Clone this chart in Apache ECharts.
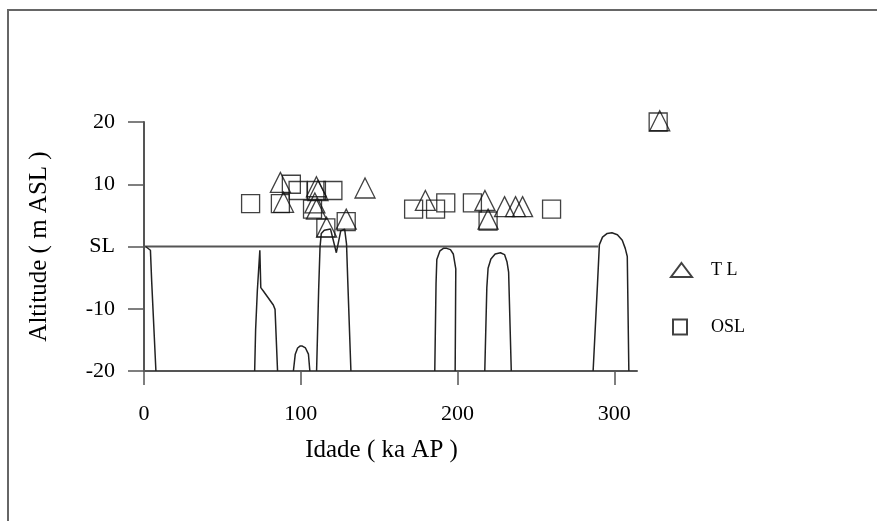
<!DOCTYPE html>
<html>
<head>
<meta charset="utf-8">
<script src="https://cdn.jsdelivr.net/npm/echarts@6/dist/echarts.min.js"></script>
<style>
html,body{margin:0;padding:0;background:#fff;}
#main{width:877px;height:521px;}
</style>
</head>
<body>
<div id="main"></div>
<script>
// amostras TL: idade (ka AP) e altitude (m)
var tlAge = [87, 89, 110, 111, 109, 110, 116.5, 129, 141, 179.5, 217.5, 219.5, 230, 237, 241.5, 329];
var tlAlt = [10.3, 7.1, 9.6, 9.0, 7.0, 6.0, 3.1, 4.4, 9.4, 7.4, 7.4, 4.4, 6.4, 6.4, 6.4, 20.2];

// amostras OSL
var oslAge = [68, 87, 94, 98.3, 110, 120.5, 107.5, 116, 129, 172, 186, 192.5, 209.5, 219.5, 260, 328];
var oslAlt = [6.9, 6.9, 10.0, 9.0, 9.0, 9.0, 6.0, 3.0, 4.0, 6.0, 6.0, 7.0, 7.0, 4.1, 6.0, 20.0];

// curva do nivel do mar (null = interrupcao abaixo de -20)
var curveAge = [1, 4.1, 4.9, 7.6, null,
    70.6, 71.2, 72.3, 73.9, 74.5, 76, 82.5, 83.6, 85.2, null,
    95.3, 96.5, 98, 99.5, 101, 103, 104.9, 105.8, null,
    110.1, 111.4, 112.3, 113.1, 115, 119, 122.7, 125.5, 128, 129.2, 130, 132, null,
    185.5, 186.3, 186.8, 188.8, 191, 193.1, 195.5, 197.3, 198.9, 198.5, null,
    217.4, 218.7, 219.5, 221.3, 224, 227.4, 230, 231.6, 232.6, 234.3, null,
    286.5, 289.3, 290.5, 292.5, 295.5, 298.5, 302, 305.1, 307, 308.3, 309.3];
var curveAlt = [0, -0.6, -5.6, -20, null,
    -20, -13.4, -7.1, -0.6, -6.6, -7.1, -9.4, -10.1, -20, null,
    -20, -17.3, -16.3, -16.0, -16.0, -16.3, -17.3, -20, null,
    -20, -7.1, -0.1, 2.1, 2.6, 2.8, -1.0, 2.5, 2.8, 0.4, -5.6, -20, null,
    -20, -6, -2.1, -0.7, -0.3, -0.3, -0.5, -1.2, -3.6, -20, null,
    -20, -6.6, -3.5, -2.0, -1.2, -1.0, -1.3, -2.5, -4.1, -20, null,
    -20, -6, 0.3, 1.5, 2.1, 2.2, 1.9, 1.0, -0.3, -1.6, -20];

// linha do nivel do mar (SL)
var slAge = [0, 289.8];
var slAlt = [0, 0];

var xTicks = [0, 100, 200, 300];
var yTicks = [-20, -10, 0, 10, 20];
var yTickText = ['-20', '-10', 'SL', '10', '20'];

function zip(a, b) {
    var out = [];
    for (var i = 0; i < a.length; i++) {
        out.push(a[i] === null ? '-' : [a[i], b[i]]);
    }
    return out;
}

var serif = 'Liberation Serif';
var myChart = echarts.init(document.getElementById('main'));

var option = {
    animation: false,
    backgroundColor: '#fff',
    graphic: [{
        type: 'rect',
        shape: {x: 8, y: 10, width: 900, height: 600},
        style: {fill: 'none', stroke: '#666', lineWidth: 2}
    }],
    grid: {left: 144, right: 240, top: 122, bottom: 150},
    legend: [{
        data: ['T L'],
        left: 670, top: 261, padding: 0,
        itemWidth: 21, itemHeight: 14,
        textStyle: {fontFamily: serif, fontSize: 18, color: '#000', padding: [4, 0, 0, 14]}
    }, {
        data: ['OSL'],
        left: 672, top: 318, padding: 0,
        itemWidth: 14, itemHeight: 15,
        textStyle: {fontFamily: serif, fontSize: 18, color: '#000', padding: [2, 0, 0, 19]}
    }],
    xAxis: {
        type: 'value',
        min: 0, max: 314.5,
        name: 'Idade ( ka AP )',
        nameLocation: 'middle',
        nameGap: 67,
        nameTextStyle: {fontFamily: serif, fontSize: 25, color: '#000', padding: [0, 18, 0, 0]},
        axisLine: {onZero: false, lineStyle: {color: '#555', width: 2}},
        axisTick: {length: 14, customValues: xTicks, lineStyle: {color: '#555', width: 1.5}},
        axisLabel: {customValues: xTicks, margin: 32, fontFamily: serif, fontSize: 22, color: '#000'},
        splitLine: {show: false}
    },
    yAxis: {
        type: 'value',
        min: -20, max: 20,
        name: 'Altitude ( m ASL )',
        nameLocation: 'middle',
        nameGap: 92,
        nameTextStyle: {fontFamily: serif, fontSize: 25, color: '#000'},
        axisLine: {show: true, onZero: false, lineStyle: {color: '#555', width: 2}},
        axisTick: {show: true, length: 16, customValues: yTicks, lineStyle: {color: '#555', width: 1.5}},
        axisLabel: {
            customValues: yTicks, margin: 29, fontFamily: serif, fontSize: 22, color: '#000',
            formatter: function (v) { return yTickText[yTicks.indexOf(v)]; }
        },
        splitLine: {show: false}
    },
    series: [{
        name: 'SL',
        type: 'line',
        data: zip(slAge, slAlt),
        showSymbol: false,
        lineStyle: {color: '#555', width: 2},
        z: 1
    }, {
        name: 'curva',
        type: 'line',
        data: zip(curveAge, curveAlt),
        showSymbol: false,
        connectNulls: false,
        lineStyle: {color: '#222', width: 1.5},
        z: 2
    }, {
        name: 'T L',
        type: 'scatter',
        data: zip(tlAge, tlAlt),
        clip: false,
        symbol: 'triangle',
        symbolSize: [20, 20],
        itemStyle: {color: 'rgba(0,0,0,0)', borderColor: '#111', borderWidth: 1.3},
        z: 3
    }, {
        name: 'OSL',
        type: 'scatter',
        data: zip(oslAge, oslAlt),
        clip: false,
        symbol: 'rect',
        symbolSize: 18,
        itemStyle: {color: 'rgba(0,0,0,0)', borderColor: '#111', borderWidth: 1.3},
        z: 3
    }]
};

myChart.setOption(option);
</script>
</body>
</html>
